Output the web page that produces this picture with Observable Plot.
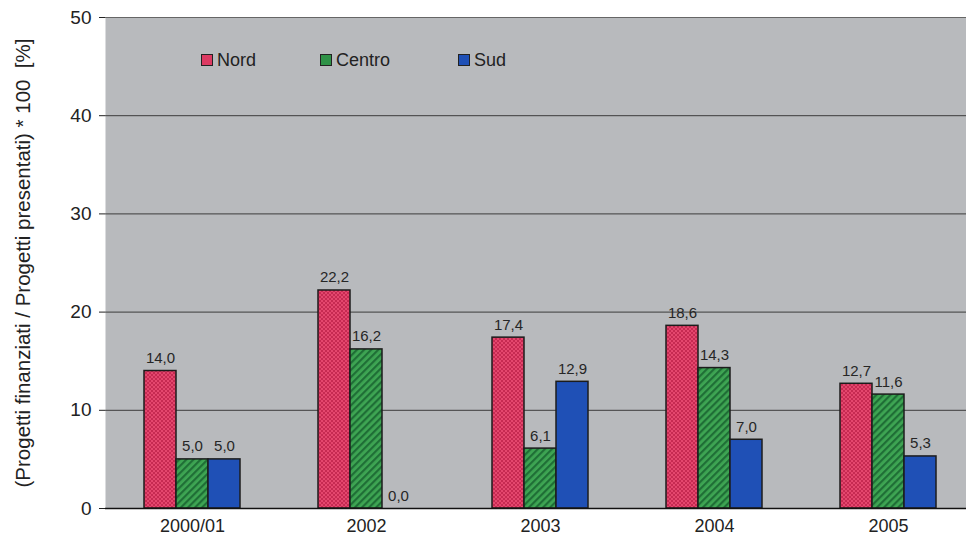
<!DOCTYPE html>
<html>
<head>
<meta charset="utf-8">
<script src="https://cdn.jsdelivr.net/npm/d3@7"></script>
<script src="https://cdn.jsdelivr.net/npm/@observablehq/plot@0.6"></script>
<style>
  body { margin: 0; background: #fff; font-family: "Liberation Sans", Arial, sans-serif; }
  #wrap { position: relative; width: 966px; height: 543px; overflow: hidden; }
  .legend { position: absolute; top: 50px; left: 201px; font-size: 18px; color: #222; line-height: 20px; }
  .item { position: absolute; top: 0; white-space: nowrap; display: flex; align-items: center; }
  .sw { width: 10px; height: 10px; border: 1px solid #222; margin-right: 4px; }
</style>
</head>
<body>
<div id="wrap"></div>
<script>
// ---- data ----
const years = ["2000/01", "2002", "2003", "2004", "2005"];
const regions = ["Nord", "Centro", "Sud"];
const nord   = [14.0, 22.2, 17.4, 18.6, 12.7];
const centro = [5.0, 16.2, 6.1, 14.3, 11.6];
const sud    = [5.0, 0.0, 12.9, 7.0, 5.3];
const yTicks = [0, 10, 20, 30, 40, 50];
const yTitle = "(Progetti finanziati / Progetti presentati) * 100\u00A0\u00A0[%]";

const series = { Nord: nord, Centro: centro, Sud: sud };
const data = years.flatMap((year, i) => regions.map(region => ({ year, region, value: series[region][i] })));
const fills = { Nord: "url(#pat-nord)", Centro: "url(#pat-centro)", Sud: "url(#pat-sud)" };
const fmt = v => v.toFixed(1).replace(".", ",");

const chart = Plot.plot({
  width: 966,
  height: 543,
  marginLeft: 104,
  marginRight: -9,
  marginTop: 17,
  marginBottom: 35,
  style: { fontFamily: "'Liberation Sans', Arial, sans-serif", fontSize: "18px", color: "#222", background: "transparent", overflow: "hidden" },
  fx: { domain: years, padding: 0, axis: "bottom", tickSize: 0, tickPadding: 11, label: null },
  x: { domain: regions, paddingInner: 0, paddingOuter: 1.19, axis: null },
  y: { domain: [0, 50], ticks: yTicks, tickSize: 6, tickPadding: 8, label: null },
  marks: [
    Plot.frame({ fill: "#b8babd", stroke: null, insetRight: -1.5 }),
    Plot.ruleY(yTicks.filter(t => t > 0 && t < 50), { stroke: "#3c3c3c", strokeWidth: 1 }),
    Plot.ruleY([50], { stroke: "#666", strokeWidth: 1 }),
    ...regions.map(r => Plot.barY(data.filter(d => d.region === r), {
      fx: "year", x: "region", y: "value",
      fill: fills[r], stroke: "#1c1c1c", strokeWidth: 1.5
    })),
    Plot.ruleY([0], { stroke: "#111", strokeWidth: 1.5 }),
    Plot.text(data, {
      fx: "year", x: "region", y: "value",
      text: d => fmt(d.value), dy: -8, lineAnchor: "bottom",
      fontSize: 15, fill: "#262626"
    })
  ]
});

const svg = d3.select(chart);
const defs = svg.insert("defs", ":first-child");
// Nord: fine checker texture
const pn = defs.append("pattern").attr("id", "pat-nord").attr("patternUnits", "userSpaceOnUse").attr("width", 4).attr("height", 4);
pn.append("rect").attr("width", 4).attr("height", 4).attr("fill", "#e4476e");
pn.append("rect").attr("width", 2).attr("height", 2).attr("fill", "#c62a52");
pn.append("rect").attr("x", 2).attr("y", 2).attr("width", 2).attr("height", 2).attr("fill", "#c62a52");
// Centro: diagonal stripes
const pc = defs.append("pattern").attr("id", "pat-centro").attr("patternUnits", "userSpaceOnUse").attr("width", 5).attr("height", 5).attr("patternTransform", "rotate(45)");
pc.append("rect").attr("width", 5).attr("height", 5).attr("fill", "#3ea553");
pc.append("rect").attr("width", 2.2).attr("height", 5).attr("fill", "#1f6e36");
// Sud: solid blue
const ps = defs.append("pattern").attr("id", "pat-sud").attr("patternUnits", "userSpaceOnUse").attr("width", 4).attr("height", 4);
ps.append("rect").attr("width", 4).attr("height", 4).attr("fill", "#1f50b6");

// y tick label size
svg.selectAll("[aria-label='y-axis tick label'] text, [aria-label='y-axis'] text").attr("font-size", "19px");

// y-axis title
svg.append("text")
  .attr("transform", "translate(22,263) rotate(-90)")
  .attr("text-anchor", "middle")
  .attr("dominant-baseline", "central")
  .attr("font-size", "20.5px")
  .attr("fill", "#222")
  .text(yTitle);

const wrap = document.getElementById("wrap");
wrap.appendChild(chart);

// legend
const legend = document.createElement("div");
legend.className = "legend";
const legendColors = { Nord: "#dc3a62", Centro: "#2e9247", Sud: "#1f50b6" };
const legendX = { Nord: 0, Centro: 119, Sud: 257 };
regions.forEach(r => {
  const it = document.createElement("div");
  it.className = "item";
  it.style.left = legendX[r] + "px";
  const sw = document.createElement("span");
  sw.className = "sw";
  sw.style.background = legendColors[r];
  const tx = document.createElement("span");
  tx.textContent = r;
  it.appendChild(sw); it.appendChild(tx);
  legend.appendChild(it);
});
wrap.appendChild(legend);
</script>
</body>
</html>
